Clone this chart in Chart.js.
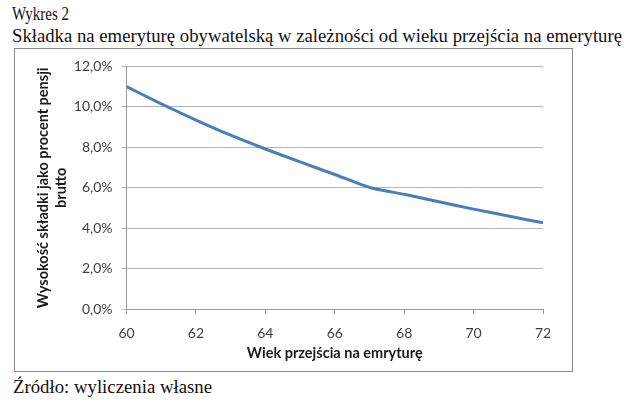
<!DOCTYPE html>
<html>
<head>
<meta charset="utf-8">
<script src="https://cdn.jsdelivr.net/npm/chart.js@4/dist/chart.umd.min.js"></script>
<style>
  html, body { margin: 0; padding: 0; background: #fff; }
  body { width: 640px; height: 408px; position: relative; overflow: hidden; }
  .serif { font-family: "Liberation Serif", "Times New Roman", serif; color: #111; position: absolute; white-space: nowrap; transform-origin: 0 0; font-size: 19px; line-height: 1; }
  #t1 { left: 12px; top: 4px; }
  #t2 { left: 12px; top: 26px; }
  #src { left: 13px; top: 377px; }
  #box { position: absolute; left: 14px; top: 48px; width: 557px; height: 322px; border: 1px solid #8a8a8a; }
  canvas { display: block; }
</style>
</head>
<body>
<div class="serif" id="t1">Wykres 2</div>
<div class="serif" id="t2">Składka na emeryturę obywatelską w zależności od wieku przejścia na emeryturę</div>
<div id="box"><canvas id="c" width="557" height="322"></canvas></div>
<div class="serif" id="src">Źródło: wyliczenia własne</div>
<script>
// Data
const ages = [60, 61, 62, 63, 64, 65, 66, 67, 68, 69, 70, 71, 72];
const contributionPct = [11.0, 10.15, 9.35, 8.6, 7.92, 7.28, 6.66, 6.02, 5.68, 5.31, 4.95, 4.61, 4.27];
const xTickValues = [60, 62, 64, 66, 68, 70, 72];
const yTickValues = [0, 2, 4, 6, 8, 10, 12];
const xTitle = 'Wiek przejścia na emryturę';
const yTitle = ['Wysokość składki jako procent pensji', 'brutto'];

// fit serif title widths to reference
function fitWidth(id, target) {
  const el = document.getElementById(id);
  const w = el.getBoundingClientRect().width;
  el.style.transform = 'scaleX(' + (target / w) + ')';
}
fitWidth('t1', 57);
fitWidth('t2', 610);
fitWidth('src', 199);

const tickFont = { family: 'Lato, "Open Sans", sans-serif', size: 14 };
const titleFont = { family: 'Lato, "Open Sans", sans-serif', size: 14.5, weight: 'bold' };
const fmt = v => v.toFixed(1).replace('.', ',') + '%';

new Chart(document.getElementById('c'), {
  type: 'line',
  data: {
    datasets: [{
      data: ages.map((a, i) => ({ x: a, y: contributionPct[i] })),
      borderColor: '#4a7ebb',
      borderWidth: 3,
      pointRadius: 0,
      tension: 0.2,
      fill: false
    }]
  },
  options: {
    responsive: false,
    animation: false,
    devicePixelRatio: 1,
    layout: { padding: { top: 8, right: 29, bottom: 9, left: 20 } },
    plugins: { legend: { display: false }, tooltip: { enabled: false } },
    scales: {
      x: {
        type: 'linear',
        min: 60, max: 72,
        afterBuildTicks: s => { s.ticks = xTickValues.map(v => ({ value: v })); },
        ticks: { font: tickFont, color: '#404040', padding: 11, callback: v => String(v), maxRotation: 0 },
        grid: { drawOnChartArea: false, tickLength: 5, color: '#9a9a9a' },
        border: { color: '#9a9a9a' },
        title: { display: true, text: xTitle, font: titleFont, color: '#1a1a1a', padding: { top: -8.5, bottom: 0 } }
      },
      y: {
        min: 0, max: 12,
        afterBuildTicks: s => { s.ticks = yTickValues.map(v => ({ value: v })); },
        ticks: { font: tickFont, color: '#404040', padding: 9, callback: v => fmt(v) },
        grid: { tickLength: 5, color: '#b5b5b5' },
        border: { color: '#9a9a9a' },
        title: { display: true, text: yTitle, font: titleFont, color: '#1a1a1a', padding: { top: 0, bottom: -5 } }
      }
    }
  }
});
</script>
</body>
</html>
